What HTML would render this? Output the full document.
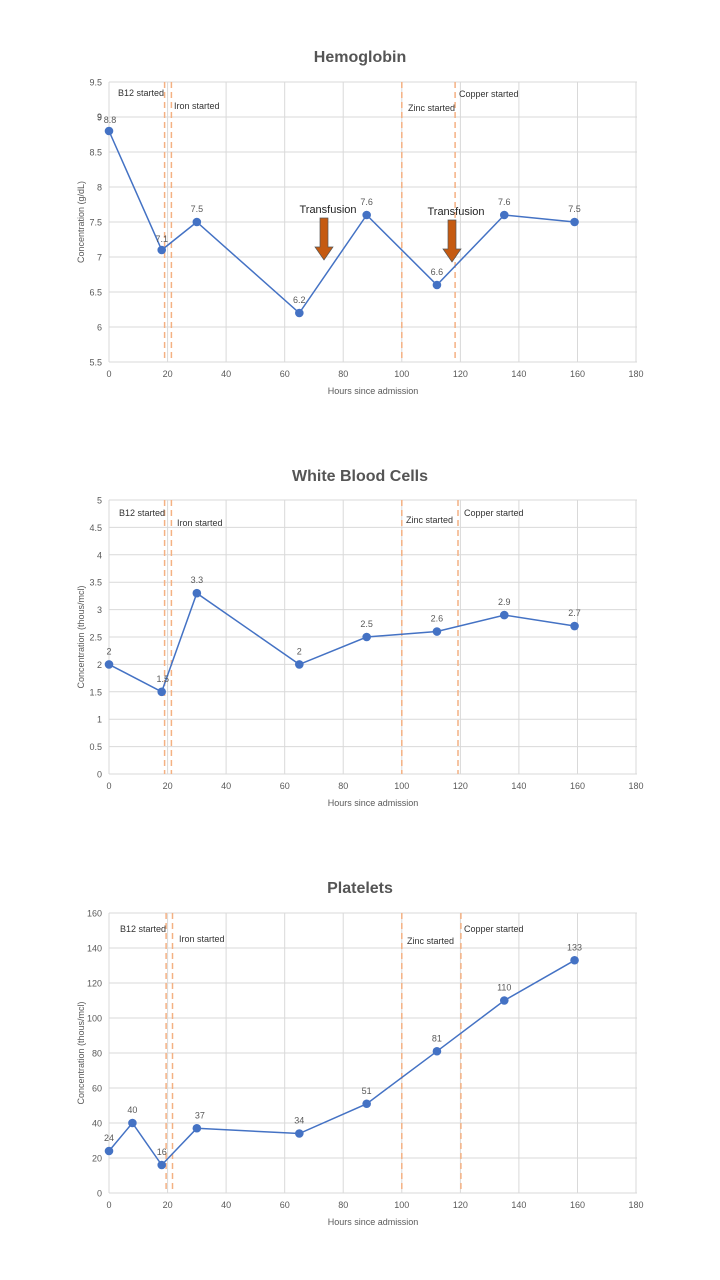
<!DOCTYPE html>
<html><head><meta charset="utf-8"><style>
html,body{margin:0;padding:0;background:#fff;}
svg{display:block;font-family:"Liberation Sans",sans-serif;}
</style></head><body>
<svg id="s" width="720" height="1280" xmlns="http://www.w3.org/2000/svg"></svg>
<script>
const s=document.getElementById('s');let h='';
const X=v=>109+v*2.928;
function chart(o){
 const {title,ty,top,bot,ymin,ymax,step,ylabel,pts,lbls,dash,ann,dec}=o;
 const Y=v=>bot-(v-ymin)/(ymax-ymin)*(bot-top);
 h+=`<text x="360" y="${ty}" text-anchor="middle" font-size="16" font-weight="bold" fill="#555">${title}</text>`;
 for(let v=ymin;v<=ymax+1e-9;v+=step){const y=Y(v).toFixed(1);
  h+=`<line x1="109" x2="637" y1="${y}" y2="${y}" stroke="#d9d9d9" stroke-width="1"/>`;
  h+=`<text x="102" y="${+y+3.5}" text-anchor="end" font-size="9" fill="#595959">${+v.toFixed(dec)}</text>`;}
 for(let v=0;v<=180;v+=20){const x=X(v).toFixed(1);
  h+=`<line x1="${x}" x2="${x}" y1="${top}" y2="${bot}" stroke="#d9d9d9" stroke-width="1"/>`;
  h+=`<text x="${x}" y="${bot+15}" text-anchor="middle" font-size="9" fill="#595959">${v}</text>`;}
 h+=`<text x="373" y="${bot+32}" text-anchor="middle" font-size="9" fill="#595959">Hours since admission</text>`;
 const cy=(top+bot)/2;
 h+=`<text transform="translate(84,${cy}) rotate(-90)" text-anchor="middle" font-size="9" fill="#595959">${ylabel}</text>`;
 dash.forEach(d=>{const x=X(d).toFixed(1);h+=`<line x1="${x}" x2="${x}" y1="${top}" y2="${bot}" stroke="#f4b183" stroke-width="1.5" stroke-dasharray="6,4"/>`;});
 ann.forEach(a=>h+=`<text x="${a[0]}" y="${a[1]}" font-size="9" fill="#333">${a[2]}</text>`);
 h+=`<polyline fill="none" stroke="#4472c4" stroke-width="1.5" points="${pts.map(p=>X(p[0]).toFixed(1)+','+Y(p[1]).toFixed(1)).join(' ')}"/>`;
 pts.forEach((p,i)=>{const x=X(p[0]),y=Y(p[1]);
  h+=`<circle cx="${x}" cy="${y}" r="4.3" fill="#4472c4"/>`;
  const l=lbls[i];h+=`<text x="${x+(l[1]||0)}" y="${y-10+(l[2]||0)}" text-anchor="middle" font-size="9" fill="#595959">${l[0]}</text>`;});
}
chart({title:'Hemoglobin',ty:62,top:82,bot:362,ymin:5.5,ymax:9.5,step:0.5,dec:1,ylabel:'Concentration (g/dL)',
 pts:[[0,8.8],[18,7.1],[30,7.5],[65,6.2],[88,7.6],[112,6.6],[135,7.6],[159,7.5]],
 lbls:[['8.8',1,2],['7.1',0,2],['7.5'],['6.2'],['7.6'],['6.6'],['7.6'],['7.5']],
 dash:[19,21.3,100,118.2],
 ann:[[118,96,'B12 started'],[174,109,'Iron started'],[408,111,'Zinc started'],[459,97,'Copper started']]});
h+=`<text x="97" y="120" font-size="9" fill="#595959">9</text>`;
chart({title:'White Blood Cells',ty:481,top:500,bot:774,ymin:0,ymax:5,step:0.5,dec:1,ylabel:'Concentration (thous/mcl)',
 pts:[[0,2],[18,1.5],[30,3.3],[65,2],[88,2.5],[112,2.6],[135,2.9],[159,2.7]],
 lbls:[['2',0,0],['1.5',1,0],['3.3'],['2'],['2.5'],['2.6'],['2.9'],['2.7']],
 dash:[19,21.3,100,119.2],
 ann:[[119,516,'B12 started'],[177,526,'Iron started'],[406,523,'Zinc started'],[464,516,'Copper started']]});
chart({title:'Platelets',ty:893,top:913,bot:1193,ymin:0,ymax:160,step:20,dec:0,ylabel:'Concentration (thous/mcl)',
 pts:[[0,24],[8,40],[18,16],[30,37],[65,34],[88,51],[112,81],[135,110],[159,133]],
 lbls:[['24',0,0],['40'],['16',0,0],['37',3,0],['34'],['51'],['81'],['110'],['133']],
 dash:[19.5,21.7,100,120.2],
 ann:[[120,932,'B12 started'],[179,942,'Iron started'],[407,944,'Zinc started'],[464,932,'Copper started']]});
// transfusion arrows
function arrow(x,ty){
 h+=`<text x="${x+4}" y="${ty}" text-anchor="middle" font-size="11" fill="#222">Transfusion</text>`;
 h+=`<polygon points="${x-4},${ty+5} ${x+4},${ty+5} ${x+4},${ty+34} ${x+9},${ty+34} ${x},${ty+47} ${x-9},${ty+34} ${x-4},${ty+34}" fill="#c55a11" stroke="#555" stroke-width="0.7"/>`;}
arrow(324,213);arrow(452,215);
s.innerHTML=h;
</script>
</body></html>
